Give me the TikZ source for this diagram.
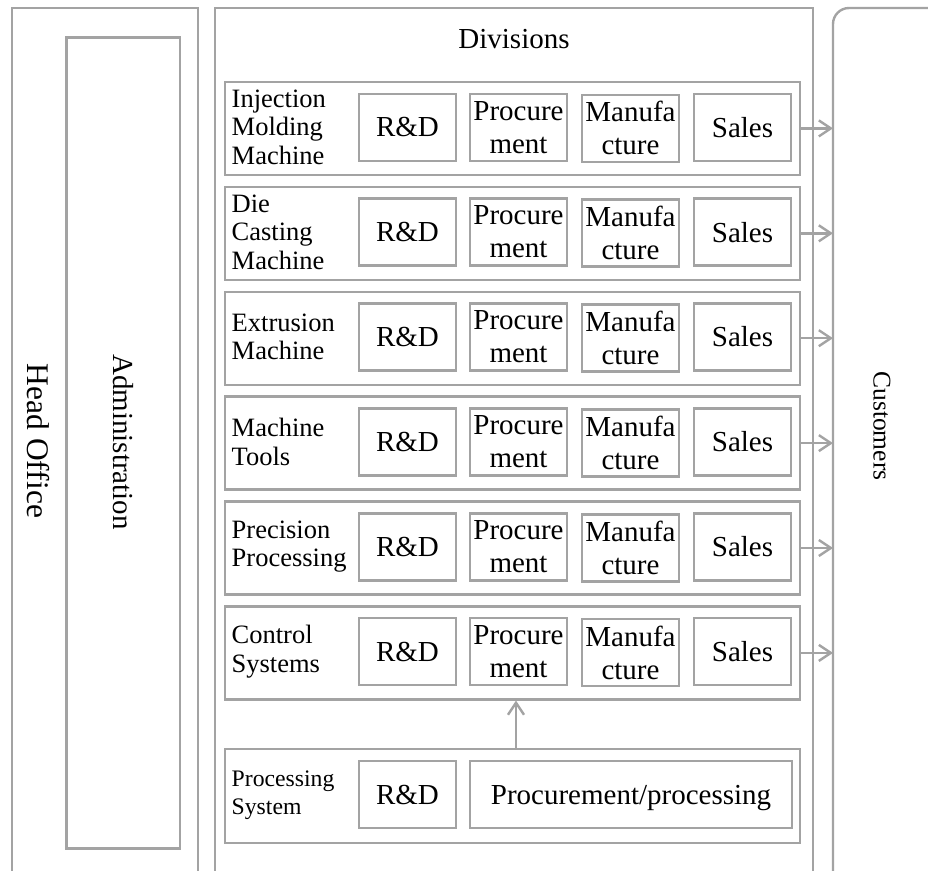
\documentclass[tikz,border=0pt]{standalone}
\usepackage{fontspec}
\setmainfont{Liberation Serif}
\usetikzlibrary{arrows.meta}
\definecolor{lg}{RGB}{163,163,163}
\begin{document}
\begin{tikzpicture}[x=1pt,y=-1pt,
  frame/.style={draw=lg, line width=2.4pt},
  rowbox/.style={draw=lg, line width=2.4pt, minimum width=575pt, minimum height=93pt, inner sep=0pt, anchor=north west},
  ibox/.style={draw=lg, line width=2.4pt, minimum width=97pt, minimum height=67pt, inner sep=0pt, align=center, font=\fontsize{29}{33}\selectfont},
  lab/.style={inner sep=0pt, anchor=west, align=left, font=\fontsize{26.5}{28.5}\selectfont},
  conn/.style={draw=lg, line width=2.4pt, -{Straight Barb[length=12pt,width=16pt,line width=2.4pt]}},
  title/.style={inner sep=0pt, font=\fontsize{29}{33}\selectfont}]
\useasboundingbox (0,0) rectangle (928,870);
% outer frames
\draw[frame] (12,872) -- (12,8) -- (198,8) -- (198,872);
\draw[frame] (66.5,37.5) rectangle (180,848.5);
\draw[frame] (215,872) -- (215,8) -- (813,8) -- (813,872);
\draw[frame, rounded corners=16pt] (940,8) -- (833,8) -- (833,872);
\coordinate (cust) at (833,426);
\node[title, rotate=-90, font=\fontsize{31.5}{36}\selectfont] (ho) at (38,441) {Head Office};
\node[title, rotate=-90] (adm) at (123,442) {Administration};
\node[title, rotate=-90, font=\fontsize{25.5}{30}\selectfont] (cus) at (882,426) {Customers};
\node[title] (div) at (514,39) {Divisions};
% rows
\foreach \i/\t/\lbl in {1/80.7/{Injection\\Molding\\Machine},
                        2/185.6/{Die\\Casting\\Machine},
                        3/290.5/{Extrusion\\Machine},
                        4/395.4/{Machine\\Tools},
                        5/500.3/{Precision\\Processing},
                        6/605.2/{Control\\Systems}}{
  \node[rowbox] (r\i) at (224,\t) {};
  \node[lab] (l\i) at (231.5,\t+46.5) {\lbl};
  \node[ibox] (rd\i) at (407.5,\t+46.5) {R\&D};
  \node[ibox] (pr\i) at (518.5,\t+46.5) {Procure\\ment};
  \node[ibox] (mf\i) at (630.5,\t+47.5) {Manufa\\cture};
  \node[ibox] (sl\i) at (742.5,\t+46.5) {Sales};
  \draw[conn] (r\i.east) -- (r\i.east -| cust);
}
% bottom row
\node[rowbox, minimum height=94pt] (r7) at (224,748) {};
\node[lab, font=\fontsize{23.7}{28.5}\selectfont] (l7) at (231.5,795) {Processing\\System};
\node[ibox] (rd7) at (407.5,794.5) {R\&D};
\node[ibox, minimum width=322pt, text depth=0pt] (pp7) at (631,794.5) {Procurement/processing};
\coordinate (up) at (516,748);
\draw[conn] (up) -- (up |- r6.south);
\end{tikzpicture}
\end{document}
